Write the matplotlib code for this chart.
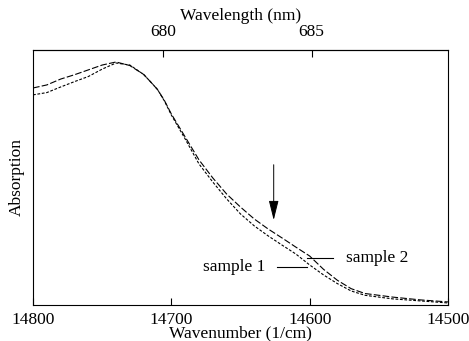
import numpy as np
import matplotlib
matplotlib.use("Agg")
import matplotlib.pyplot as plt

plt.rcParams['font.family'] = ['Liberation Serif', 'DejaVu Serif']
plt.rcParams['font.size'] = 12.5

# wavenumber grid (1/cm) and absorption traces
wavenumber = [14800, 14790, 14780, 14770, 14760, 14750, 14740, 14730, 14720,
              14715, 14710, 14705, 14700, 14690, 14680, 14670, 14660, 14650,
              14640, 14630, 14620, 14610, 14600, 14590, 14580, 14570, 14560,
              14540, 14520, 14500]
sample2 = [0.851, 0.863, 0.886, 0.903, 0.922, 0.941, 0.953, 0.939, 0.904,
           0.875, 0.845, 0.802, 0.749, 0.659, 0.569, 0.498, 0.435, 0.384,
           0.337, 0.298, 0.263, 0.227, 0.192, 0.140, 0.097, 0.064, 0.045,
           0.031, 0.020, 0.012]
sample1 = [0.824, 0.833, 0.855, 0.876, 0.896, 0.925, 0.949, 0.941, 0.904,
           0.875, 0.845, 0.800, 0.745, 0.651, 0.553, 0.482, 0.416, 0.357,
           0.310, 0.271, 0.235, 0.200, 0.157, 0.118, 0.084, 0.055, 0.038,
           0.024, 0.016, 0.008]

bottom_ticks = [14700, 14600]
top_ticks = [680, 685]

fig = plt.figure(figsize=(4.69, 3.41), dpi=100)
ax = fig.add_axes([0.0704, 0.1056, 0.8848, 0.7478])

ax.plot(wavenumber, sample2, color='black', lw=0.8, dashes=(6, 2))
ax.plot(wavenumber, sample1, color='black', lw=0.8, dashes=(2.5, 1.5))

ax.set_xlim(14800, 14500)
ax.set_ylim(0, 1)
ax.set_yticks([])
ax.set_xticks([14800] + bottom_ticks + [14500])
ax.tick_params(axis='x', direction='in', length=5, pad=5)
ax.set_xlabel('Wavenumber (1/cm)', labelpad=-2)
ax.set_ylabel('Absorption', labelpad=6)

sec = ax.secondary_xaxis('top', functions=(lambda w: 1e7 / w, lambda l: 1e7 / l))
sec.set_xticks(top_ticks)
sec.tick_params(direction='in', length=5, pad=7)
sec.set_xlabel('Wavelength (nm)', labelpad=3)

# arrow marking the feature
ax.annotate('', xy=(14626, 0.333), xytext=(14626, 0.55),
            arrowprops=dict(arrowstyle='-|>,head_length=1.2,head_width=0.3',
                            mutation_scale=10, color='black', lw=0.7,
                            shrinkA=0, shrinkB=0))

# sample labels with leader lines
ax.plot([14623.6, 14601.9], [0.149, 0.149], color='black', lw=0.8)
ax.plot([14601.9, 14583.1], [0.184, 0.184], color='black', lw=0.8)
ax.text(14632, 0.149, 'sample 1', ha='right', va='center')
ax.text(14574, 0.184, 'sample 2', ha='left', va='center')

fig.savefig('out.png', dpi=100)
